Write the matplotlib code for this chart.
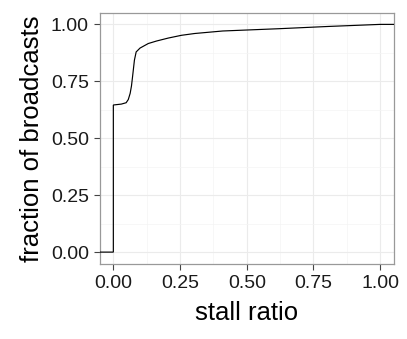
import matplotlib
matplotlib.use("Agg")
import matplotlib.pyplot as plt
from matplotlib.ticker import MultipleLocator

plt.rcParams['font.family'] = ['Liberation Sans', 'DejaVu Sans']

# ecdf of stall ratio
stall_ratio = [0.0, 0.0, 0.03, 0.048, 0.056, 0.063, 0.068, 0.072, 0.079, 0.0855,
               0.1, 0.131, 0.162, 0.206, 0.255, 0.305, 0.41, 0.62, 0.807, 1.0]
fraction = [0.0, 0.646, 0.65, 0.656, 0.67, 0.697, 0.73, 0.77, 0.843, 0.879,
            0.896, 0.916, 0.927, 0.94, 0.952, 0.96, 0.971, 0.981, 0.991, 1.0]
x_ticks = [0.0, 0.25, 0.5, 0.75, 1.0]
y_ticks = [0.0, 0.25, 0.5, 0.75, 1.0]

fig = plt.figure(figsize=(4.07, 3.39), dpi=100)
ax = fig.add_axes([100 / 407, 1 - 263.5 / 339, 293.5 / 407, 250.5 / 339])

xlo, xhi = -0.05, 1.05
# stat_ecdf pads the ends out to -Inf / Inf
xs = [xlo - 0.1] + stall_ratio + [xhi + 0.1]
ys = [fraction[0]] + fraction + [fraction[-1]]
ax.plot(xs, ys, color='black', lw=0.85, solid_joinstyle='miter', zorder=3)

ax.set_xlim(xlo, xhi)
ax.set_ylim(-0.05, 1.05)
ax.set_xticks(x_ticks)
ax.set_yticks(y_ticks)
ax.set_xticklabels(['%.2f' % v for v in x_ticks])
ax.set_yticklabels(['%.2f' % v for v in y_ticks])
ax.xaxis.set_minor_locator(MultipleLocator(0.125))
ax.yaxis.set_minor_locator(MultipleLocator(0.125))
ax.tick_params(axis='both', which='minor', length=0)

ax.grid(True, which='major', color='#ebebeb', lw=0.8)
ax.grid(True, which='minor', color='#f4f4f4', lw=0.5)
ax.set_axisbelow(True)

for s in ax.spines.values():
    s.set_color('#999999')
    s.set_linewidth(0.9)

ax.tick_params(axis='both', which='major', length=4, width=0.8, color='#444444',
               labelsize=14, labelcolor='#1a1a1a', pad=4)

ax.set_xlabel('stall ratio', fontsize=18.5, color='black', labelpad=7)
ax.set_ylabel('fraction of broadcasts', fontsize=18.5, color='black', labelpad=5)

fig.savefig('out.png', dpi=100)
